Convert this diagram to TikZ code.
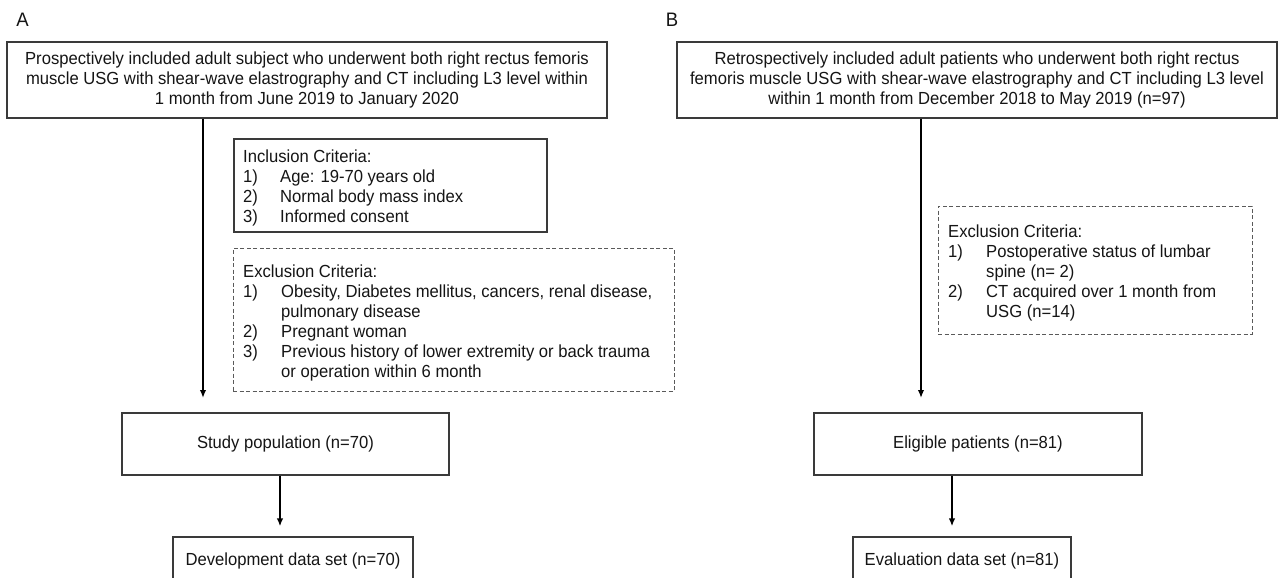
\documentclass[tikz,border=0pt]{standalone}
\usepackage{fontspec}
\setmainfont[FakeStretch=0.95]{Liberation Sans}
\usetikzlibrary{arrows.meta}
\definecolor{boxc}{HTML}{3A3A3A}
\definecolor{dashc}{HTML}{5A5A5A}
\definecolor{txtc}{HTML}{151515}
\newcommand{\fsz}{\fontsize{17.5}{20}\selectfont}
\begin{document}
\begin{tikzpicture}[x=1pt,y=-1pt,
  solidbox/.style={draw=boxc, line width=1.3pt, inner sep=0pt, align=center,
    font=\fsz, text=txtc},
  dashbox/.style={draw=dashc, line width=1pt, dash pattern=on 4pt off 2.5pt, inner sep=0pt},
  txt/.style={inner sep=0pt, font=\fsz, text=txtc, anchor=base west},
  lbl/.style={inner sep=0pt, font=\fontsize{19.5}{22}\selectfont, text=txtc},
  arr/.style={line width=1.7pt, draw=black, -{Latex[length=8pt,width=6.5pt]}}]
\useasboundingbox (0,0) rectangle (1282,578);
\clip (0,0) rectangle (1282,578);
\fill[white] (0,0) rectangle (1282,578);

% ---------------- A ----------------
\node[lbl] (labA) at (22.5,20) {A};
\node[solidbox, minimum width=600pt, minimum height=76pt] (a1) at (307,80)
  {Prospectively included adult subject who underwent both right rectus femoris\\
   muscle USG with shear-wave elastrography and CT including L3 level within\\
   1 month from June 2019 to January 2020};

\node[draw=boxc, line width=1.3pt, inner sep=0pt, minimum width=313pt, minimum height=93pt] (incA) at (390.5,185.5) {};
\node[txt] (incA0) at (243,162.2) {Inclusion Criteria:};
\node[txt] (incA1n) at (243,182.2) {1)};
\node[txt] (incA1) at (280,182.2) {Age: 19-70 years old};
\node[txt] (incA2n) at (243,202.2) {2)};
\node[txt] (incA2) at (280,202.2) {Normal body mass index};
\node[txt] (incA3n) at (243,222.2) {3)};
\node[txt] (incA3) at (280,222.2) {Informed consent};

\node[dashbox, minimum width=441pt, minimum height=143pt] (excA) at (453.5,319.5) {};
\node[txt] (excA0) at (243,277.2) {Exclusion Criteria:};
\node[txt] (excA1n) at (243,297.2) {1)};
\node[txt] (excA1) at (281,297.2) {Obesity, Diabetes mellitus, cancers, renal disease,};
\node[txt] (excA1b) at (281,317.2) {pulmonary disease};
\node[txt] (excA2n) at (243,337.2) {2)};
\node[txt] (excA2) at (281,337.2) {Pregnant woman};
\node[txt] (excA3n) at (243,357.2) {3)};
\node[txt] (excA3) at (281,357.2) {Previous history of lower extremity or back trauma};
\node[txt] (excA3b) at (281,377.2) {or operation within 6 month};

\node[solidbox, minimum width=327pt, minimum height=62pt] (spA) at (285.5,444) {Study population (n=70)};
\node[solidbox, minimum width=240pt, minimum height=47pt] (devA) at (293,560.5) {Development data set (n=70)};

\coordinate (endA) at (203,398);
\draw[arr] (a1.south -| endA) -- (endA);
\coordinate (xA) at (280,0);
\draw[arr] (spA.south -| xA) -- ([yshift=10pt]devA.north -| xA);

% ---------------- B ----------------
\node[lbl] (labB) at (672,20) {B};
\node[solidbox, minimum width=600pt, minimum height=76pt] (b1) at (977,80)
  {Retrospectively included adult patients who underwent both right rectus\\
   femoris muscle USG with shear-wave elastrography and CT including L3 level\\
   within 1 month from December 2018 to May 2019 (n=97)};

\node[dashbox, minimum width=314pt, minimum height=128pt] (excB) at (1095,270) {};
\node[txt] (excB0) at (948,237.5) {Exclusion Criteria:};
\node[txt] (excB1n) at (948,257.5) {1)};
\node[txt] (excB1) at (986,257.5) {Postoperative status of lumbar};
\node[txt] (excB1b) at (986,277.5) {spine (n= 2)};
\node[txt] (excB2n) at (948,297.5) {2)};
\node[txt] (excB2) at (986,297.5) {CT acquired over 1 month from};
\node[txt] (excB2b) at (986,317.5) {USG (n=14)};

\node[solidbox, minimum width=328pt, minimum height=62pt] (elB) at (978,444) {Eligible patients (n=81)};
\node[solidbox, minimum width=218pt, minimum height=47pt] (evB) at (962,560.5) {Evaluation data set (n=81)};

\coordinate (endB) at (921,398);
\draw[arr] (b1.south -| endB) -- (endB);
\coordinate (xB) at (952,0);
\draw[arr] (elB.south -| xB) -- ([yshift=10pt]evB.north -| xB);
\end{tikzpicture}
\end{document}
